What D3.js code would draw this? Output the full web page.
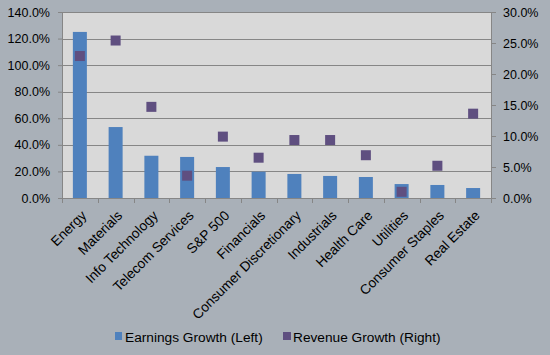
<!DOCTYPE html>
<html><head><meta charset="utf-8">
<script src="https://cdn.jsdelivr.net/npm/d3@7/dist/d3.min.js"></script>
<style>
body{margin:0;background:#A9B0B8;}
svg{display:block;font-family:"Liberation Sans",Arial,sans-serif;}
</style></head><body>
<script>
const categories = ["Energy","Materials","Info Technology","Telecom Services","S&P 500","Financials","Consumer Discretionary","Industrials","Health Care","Utilities","Consumer Staples","Real Estate"];
const earningsGrowth = [125.0, 53.4, 31.8, 30.9, 23.3, 19.8, 18.1, 16.6, 15.8, 10.5, 9.8, 7.5];
const revenueGrowth = [22.9, 25.4, 14.7, 3.6, 9.9, 6.5, 9.35, 9.35, 6.9, 1.0, 5.2, 13.6];
const leftTicks = [0, 20, 40, 60, 80, 100, 120, 140];
const rightTicks = [0, 5, 10, 15, 20, 25, 30];
const seriesNames = ["Earnings Growth (Left)", "Revenue Growth (Right)"];

const W = 550, H = 355;
const plot = {l: 62, r: 491, t: 12, b: 198};
const svg = d3.select("body").append("svg").attr("width", W).attr("height", H);
svg.append("rect").attr("width", W).attr("height", H).attr("fill", "#A9B0B8");

const x = d3.scaleBand().domain(categories).range([plot.l, plot.r]).paddingInner(0).paddingOuter(0);
const yL = d3.scaleLinear().domain([0, 140]).range([plot.b, plot.t]);
const yR = d3.scaleLinear().domain([0, 30]).range([plot.b, plot.t]);

svg.append("rect").attr("x", plot.l).attr("y", plot.t).attr("width", plot.r - plot.l).attr("height", plot.b - plot.t).attr("fill", "#D9D9D9");

// gridlines
svg.append("g").selectAll("line").data(leftTicks.filter(d => d > 0)).join("line")
  .attr("x1", plot.l).attr("x2", plot.r)
  .attr("y1", d => Math.round(yL(d)) + 0.5).attr("y2", d => Math.round(yL(d)) + 0.5)
  .attr("stroke", "#868686").attr("stroke-width", 1);

const fmt = d => d.toFixed(1) + "%";
// left axis
const gl = svg.append("g").attr("transform", `translate(${plot.l},0)`)
  .call(d3.axisLeft(yL).tickValues(leftTicks).tickFormat(fmt).tickSize(4).tickPadding(8));
// right axis
const gr = svg.append("g").attr("transform", `translate(${plot.r},0)`)
  .call(d3.axisRight(yR).tickValues(rightTicks).tickFormat(fmt).tickSize(5).tickPadding(7));
[gl, gr].forEach(g => {
  g.select(".domain").attr("stroke", "#868686");
  g.selectAll(".tick line").attr("stroke", "#868686");
  g.selectAll(".tick text").attr("fill", "#000").attr("font-size", 12.5).attr("font-family", "Liberation Sans, Arial, sans-serif");
});

// bars
const bw = 14;
svg.append("g").selectAll("rect").data(categories).join("rect")
  .attr("x", (d) => x(d) + x.bandwidth() / 2 - bw / 2)
  .attr("y", (d, i) => yL(earningsGrowth[i]))
  .attr("width", bw)
  .attr("height", (d, i) => plot.b - yL(earningsGrowth[i]))
  .attr("fill", "#4F81BD");

// markers
const ms = 10;
svg.append("g").selectAll("rect").data(categories).join("rect")
  .attr("x", d => x(d) + x.bandwidth() / 2 - ms / 2)
  .attr("y", (d, i) => yR(revenueGrowth[i]) - ms / 2)
  .attr("width", ms).attr("height", ms)
  .attr("fill", "#5F4F80");

// bottom axis
const gb = svg.append("g");
gb.append("line").attr("x1", plot.l - 4).attr("x2", plot.r).attr("y1", plot.b + 0.5).attr("y2", plot.b + 0.5).attr("stroke", "#868686");
const bounds = d3.range(categories.length + 1).map(i => plot.l + i * x.bandwidth());
gb.selectAll("line.t").data(bounds).join("line").attr("class", "t")
  .attr("x1", d => Math.round(d) + 0.5).attr("x2", d => Math.round(d) + 0.5)
  .attr("y1", plot.b).attr("y2", plot.b + 5).attr("stroke", "#868686");
gb.selectAll("text").data(categories).join("text")
  .attr("transform", d => `translate(${x(d) + x.bandwidth() / 2 + 4},${plot.b + 15}) rotate(-45)`)
  .attr("text-anchor", "end").attr("dy", "0.35em")
  .attr("font-size", 13.7).attr("fill", "#000").text(d => d);

// legend
const leg = svg.append("g");
const legItems = [{n: seriesNames[0], c: "#4F81BD", x: 115, w: 7, tx: 125}, {n: seriesNames[1], c: "#5F4F80", x: 283, w: 8, tx: 293}];
legItems.forEach(it => {
  leg.append("rect").attr("x", it.x).attr("y", 332).attr("width", it.w).attr("height", 8).attr("fill", it.c);
  leg.append("text").attr("x", it.tx).attr("y", 337).attr("dy", "0.35em")
    .attr("font-size", 13.7).attr("fill", "#000").text(it.n);
});
</script>
</body></html>
